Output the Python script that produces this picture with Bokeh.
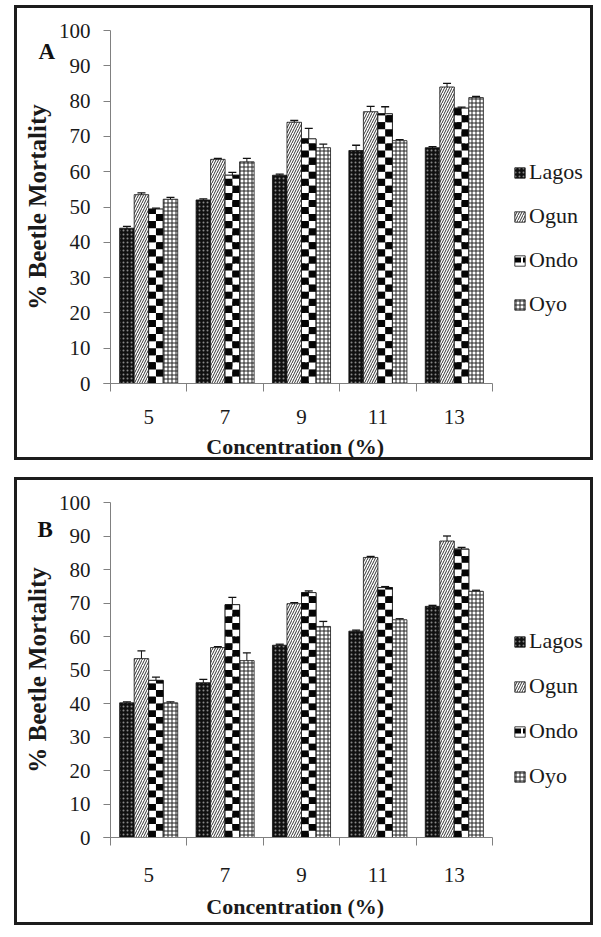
import math
from bokeh.plotting import figure
from bokeh.models import (ColumnDataSource, FixedTicker, Legend, LegendItem, Label,
                          Whisker, TeeHead, Range1d)
from bokeh.layouts import column
from bokeh.transform import dodge
from bokeh.embed import file_html
from bokeh.resources import INLINE

# ---------------- data ----------------
conc = ["5", "7", "9", "11", "13"]
regions = ["Lagos", "Ogun", "Ondo", "Oyo"]
y_ticks = [0, 10, 20, 30, 40, 50, 60, 70, 80, 90, 100]

# Panel A
a_lagos = [44.0, 52.0, 59.0, 66.0, 66.8]
a_ogun = [53.5, 63.5, 74.0, 77.0, 84.0]
a_ondo = [49.4, 59.0, 69.3, 76.4, 78.0]
a_oyo = [52.2, 62.8, 66.8, 68.8, 81.0]
a_lagos_err = [0.5, 0.3, 0.3, 1.5, 0.3]
a_ogun_err = [0.5, 0.3, 0.5, 1.5, 1.0]
a_ondo_err = [0.3, 0.8, 3.0, 2.0, 0.3]
a_oyo_err = [0.5, 1.0, 1.0, 0.3, 0.3]

# Panel B
b_lagos = [40.2, 46.2, 57.4, 61.6, 69.0]
b_ogun = [53.4, 56.7, 69.8, 83.6, 88.5]
b_ondo = [46.9, 69.5, 73.1, 74.6, 86.1]
b_oyo = [40.2, 52.8, 63.0, 65.0, 73.5]
b_lagos_err = [0.3, 1.0, 0.3, 0.3, 0.3]
b_ogun_err = [2.3, 0.3, 0.3, 0.3, 1.5]
b_ondo_err = [1.0, 2.2, 0.5, 0.3, 0.5]
b_oyo_err = [0.3, 2.3, 1.5, 0.3, 0.3]

FONT = "Liberation Serif"
INK = "#111111"
AXIS_GRAY = "#808080"

styles_per_region = [
    dict(fill_color="#101010", hatch_pattern=".", hatch_color="#8a8a8a", hatch_scale=4),
    dict(fill_color="white", hatch_pattern="/", hatch_color="#333333", hatch_scale=5, hatch_weight=1),
    dict(fill_color="white", hatch_pattern='"', hatch_color="#000000", hatch_scale=10, hatch_weight=5),
    dict(fill_color="white", hatch_pattern="+", hatch_color="#222222", hatch_scale=4, hatch_weight=1),
]
offsets = [-0.285, -0.095, 0.095, 0.285]
BAR_W = 0.19
CHECK_H = 2.0   # height of one checker cell (data units)


def checker_cells(centers, tops, off):
    """Split each checker-patterned bar into alternating black / white cells."""
    blk = dict(left=[], right=[], bottom=[], top=[])
    wht = dict(left=[], right=[], bottom=[], top=[])
    half = BAR_W / 2
    for c, t in zip(centers, tops):
        xc = c + off
        n = int(math.ceil(t / CHECK_H))
        for k in range(n):
            b = k * CHECK_H
            tp = min((k + 1) * CHECK_H, t)
            cols = [(xc - half, xc), (xc, xc + half)]
            first, second = (cols[0], cols[1]) if k % 2 == 0 else (cols[1], cols[0])
            for d, (l, r) in ((blk, first), (wht, second)):
                d["left"].append(l)
                d["right"].append(r)
                d["bottom"].append(b)
                d["top"].append(tp)
    return blk, wht


def make_panel(letter, series, errs, width, height, px_x0, px_x5, px_y0, px_y100,
               legend_xy, legend_spacing, letter_xy, margin, lab_standoff, title_standoff):
    n = len(conc)
    centers = [i + 0.5 for i in range(n)]
    bounds = [float(i) for i in range(n + 1)]
    data = {"x": centers}
    for r, vals, e in zip(regions, series, errs):
        data[r] = vals
        data[r + "_up"] = [v + d for v, d in zip(vals, e)]
        data[r + "_lo"] = [v - d for v, d in zip(vals, e)]
    src = ColumnDataSource(data)

    # ranges chosen so that the frame fills the whole panel box
    ppx = (px_x5 - px_x0) / n
    x_start = -px_x0 / ppx
    ppy = (px_y0 - px_y100) / 100.0
    y_end = 100 + px_y100 / ppy
    y_start = y_end - height / ppy

    p = figure(width=width, height=height, output_backend="svg", toolbar_location=None,
               x_range=Range1d(x_start, x_start + width / ppx),
               y_range=Range1d(y_start, y_end),
               min_border=0, margin=margin)
    p.styles = {"border": "3px solid #1c1c1c"}
    p.outline_line_color = None
    p.xgrid.visible = False
    p.ygrid.visible = False
    p.background_fill_color = "white"
    p.border_fill_color = "white"

    items = []
    for r, off, st in zip(regions, offsets, styles_per_region):
        rend = p.vbar(x=dodge("x", off), top=r, width=BAR_W, source=src,
                      line_color=INK, line_width=0.8, **st)
        items.append(LegendItem(label=r, renderers=[rend]))
        if r == "Ondo":
            blk, wht = checker_cells(centers, series[regions.index(r)], off)
            p.quad(source=ColumnDataSource(wht), left="left", right="right",
                   bottom="bottom", top="top", fill_color="white", line_color=None)
            p.quad(source=ColumnDataSource(blk), left="left", right="right",
                   bottom="bottom", top="top", fill_color="#050505", line_color=None)
            p.vbar(x=dodge("x", off), top=r, width=BAR_W, source=src,
                   fill_color=None, line_color=INK, line_width=0.8)

    for r, off in zip(regions, offsets):
        w = Whisker(base=dodge("x", off), upper=r + "_up", lower=r + "_lo", source=src,
                    line_color=INK, line_width=1,
                    upper_head=TeeHead(size=8, line_color=INK, line_width=1.3),
                    lower_head=TeeHead(size=8, line_color=INK, line_width=1.3))
        p.add_layout(w)

    # axes (kept in their side panels, drawn at a fixed data location)
    xa = p.xaxis[0]
    xa.fixed_location = 0
    xa.bounds = (-0.09, n)
    xa.ticker = FixedTicker(ticks=centers, minor_ticks=bounds)
    xa.major_label_overrides = {c: lab for c, lab in zip(centers, conc)}
    xa.major_tick_out = 0
    xa.major_tick_in = 0
    xa.minor_tick_out = 8
    xa.minor_tick_in = 0
    xa.minor_tick_line_color = AXIS_GRAY
    xa.axis_line_color = AXIS_GRAY
    xa.major_label_text_font = FONT
    xa.major_label_text_font_size = "21px"
    xa.major_label_text_color = "#1a1a1a"
    xa.major_label_standoff = lab_standoff
    xa.axis_label = "Concentration  (%)"
    xa.axis_label_text_font = FONT
    xa.axis_label_text_font_style = "bold"
    xa.axis_label_text_font_size = "22px"
    xa.axis_label_text_color = "#1a1a1a"
    xa.axis_label_standoff = title_standoff

    ya = p.yaxis[0]
    ya.fixed_location = 0
    ya.bounds = (0, 100)
    ya.ticker = FixedTicker(ticks=y_ticks)
    ya.minor_tick_line_color = None
    ya.major_tick_out = 7
    ya.major_tick_in = 0
    ya.major_tick_line_color = AXIS_GRAY
    ya.axis_line_color = AXIS_GRAY
    ya.major_label_text_font = FONT
    ya.major_label_text_font_size = "21px"
    ya.major_label_text_color = "#1a1a1a"
    ya.major_label_standoff = 13
    ya.axis_label = "% Beetle Mortality"
    ya.axis_label_text_font = FONT
    ya.axis_label_text_font_style = "bold"
    ya.axis_label_text_font_size = "25px"
    ya.axis_label_text_color = "#1a1a1a"
    ya.axis_label_standoff = 5

    legend = Legend(items=items, location=legend_xy, padding=0, margin=0,
                    spacing=legend_spacing, glyph_height=13, glyph_width=13, label_height=24,
                    label_standoff=3, border_line_color=None, background_fill_alpha=0,
                    label_text_font=FONT, label_text_font_size="22px",
                    label_text_color="#1a1a1a")
    p.add_layout(legend)

    p.add_layout(Label(x=letter_xy[0], y=letter_xy[1], x_units="screen", y_units="screen",
                       text=letter, text_font=FONT, text_font_style="bold",
                       text_font_size="23px", text_color=INK,
                       text_baseline="middle", text_align="left"))
    return p


# panel A: inner box spans page x 17..596, y 8..463
pA = make_panel("A", [a_lagos, a_ogun, a_ondo, a_oyo],
                [a_lagos_err, a_ogun_err, a_ondo_err, a_oyo_err],
                width=579, height=455, px_x0=93, px_x5=475, px_y0=375, px_y100=22,
                legend_xy=(496, 146), legend_spacing=18, letter_xy=(21, 412),
                margin=(5, 0, 0, 14), lab_standoff=18, title_standoff=7)
# panel B: inner box spans page x 17..596, y 486..934
pB = make_panel("B", [b_lagos, b_ogun, b_ondo, b_oyo],
                [b_lagos_err, b_ogun_err, b_ondo_err, b_oyo_err],
                width=579, height=448, px_x0=93, px_x5=475, px_y0=357, px_y100=22,
                legend_xy=(496, 139), legend_spacing=19, letter_xy=(20, 399),
                margin=(17, 0, 0, 14), lab_standoff=22, title_standoff=9)

layout = column(pA, pB, spacing=0)
open("out.html", "w").write(file_html(layout, INLINE))
